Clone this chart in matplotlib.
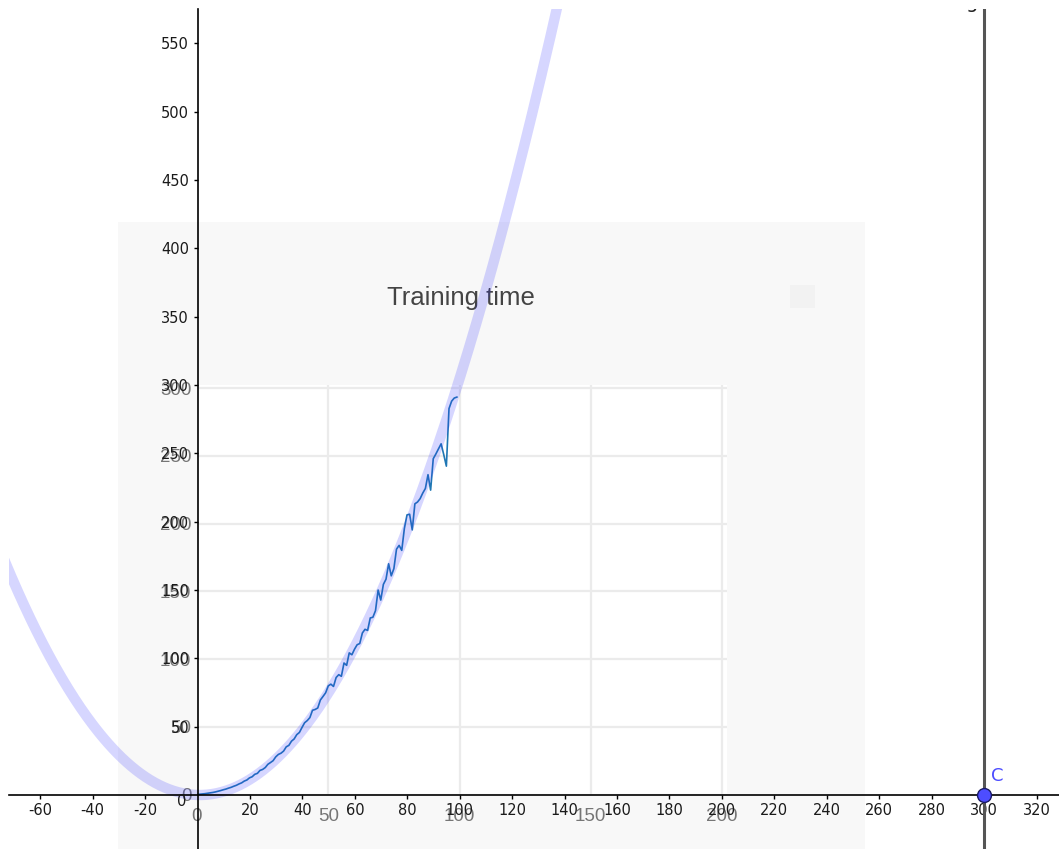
import matplotlib.pyplot as plt
import numpy as np
from matplotlib.patches import Rectangle

plt.rcParams['axes.unicode_minus'] = False

# training-time curve (x = run index)
run_x = list(range(0, 100))
run_time = [
    0, 0.2, 0.4, 0.6, 0.9, 1.2, 1.5, 1.9, 2.4, 2.9,
    3.5, 4.0, 4.7, 5.3, 6.1, 6.8, 7.8, 8.6, 9.9, 10.7,
    12.3, 13.1, 14.9, 15.6, 17.8, 18.5, 19.9, 22.3, 23.6, 25.0,
    27.8, 29.6, 30.5, 32.1, 35.2, 36.3, 39.4, 41.0, 44.2, 45.8,
    49.5, 53.0, 54.6, 56.8, 62.2, 62.8, 63.9, 69.8, 72.4, 75.1,
    80.2, 81.5, 79.8, 86.4, 88.5, 87.3, 97.1, 95.4, 104.6, 103.2,
    107.3, 110.6, 111.5, 119.3, 122.0, 121.2, 130.4, 130.9, 135.8, 151.0,
    143.6, 155.2, 159.0, 170.4, 161.5, 166.8, 181.2, 184.0, 180.3, 196.5,
    206.5, 207.0, 195.4, 214.7, 216.0, 218.5, 222.6, 226.0, 236.2, 224.8,
    248.0, 251.5, 255.3, 259.0, 251.0, 242.5, 285.0, 290.5, 292.8, 293.5,
]

# geogebra objects: fitted parabola f(x) = a x^2 + b x + c, point C, line g
fit_coeffs = [0.031, -0.05, 0.0]
point_c = (300, 0)
line_g_x = 300

geo_xticks = [t for t in range(-60, 321, 20) if t != 0]
geo_yticks = list(range(50, 551, 50))
inner_xticks = [0, 50, 100, 150, 200]
inner_yticks = [0, 50, 100, 150, 200, 250, 300]

W, H = 1059, 849
X0, XS = 197.5, 2.622   # geogebra origin pixel and pixels per unit
Y0, YS = 795, 1.3667

fig = plt.figure(figsize=(W / 100, H / 100), dpi=100)
fig.patch.set_facecolor('white')

# grey background of the pasted plotly screenshot
bg = Rectangle((118 / W, 0), (865 - 118) / W, (849 - 222) / H,
               transform=fig.transFigure, facecolor='#f8f8f8',
               edgecolor='none', zorder=0.2)
fig.patches.append(bg)
icon = Rectangle((790 / W, 1 - 308 / H), 25 / W, 23 / H,
                 transform=fig.transFigure, facecolor='#f2f2f2',
                 edgecolor='none', zorder=0.3)
fig.patches.append(icon)

# inner plotly axes
ax_in = fig.add_axes([197 / W, (849 - 794.5) / H, 530 / W, 409.5 / H])
ax_in.set_zorder(1)
ax_in.set_facecolor('white')
ax_in.set_xlim(0, 530 / 2.625)
ax_in.set_ylim(0, 409.5 / 1.354)
ax_in.plot(run_x, run_time, color='#1f77b4', lw=1.2)
ax_in.set_xticks(inner_xticks)
ax_in.set_yticks(inner_yticks)
ax_in.grid(True, color='#ebebeb', lw=1.6)
ax_in.set_axisbelow(True)
for s in ax_in.spines.values():
    s.set_visible(False)
ax_in.tick_params(length=0, labelsize=13.5, labelcolor='#555555')
for lab in ax_in.get_xticklabels() + ax_in.get_yticklabels():
    lab.set_fontfamily('Liberation Sans')
    lab.set_alpha(0.8)
ax_in.tick_params(axis='y', pad=4)
ax_in.tick_params(axis='x', pad=10)

fig.text(387 / W, 1 - 298 / H, 'Training time', ha='left', va='center',
         fontsize=18.5, color='#444444', family='Liberation Sans', zorder=1.5)

# geogebra graphics view
ax = fig.add_axes([9 / W, 0, 1050 / W, 840 / H])
ax.set_zorder(2)
ax.patch.set_alpha(0)
ax.set_xlim((9 - X0) / XS, (W - X0) / XS)
ax.set_ylim((Y0 - H) / YS, (Y0 - 9) / YS)

xs = np.linspace(-80, 160, 400)
ax.plot(xs, np.polyval(fit_coeffs, xs), color='#3333ff', alpha=0.2, lw=7.5,
        solid_capstyle='butt')
ax.axvline(line_g_x, color='#555555', lw=2.2)
ax.plot(*point_c, 'o', ms=10, mfc='#4d4dff', mec='#1a1a66', mew=1, clip_on=False,
        zorder=5)
ax.text(point_c[0] + 2.5, point_c[1] + 7, 'C', color='#4d4dff', fontsize=13,
        ha='left', va='bottom')
ax.text((966 - X0) / XS, (Y0 - 8) / YS, 'g', color='#222222', fontsize=14,
        ha='left', va='baseline', clip_on=True)

ax.spines['left'].set_position(('data', 0))
ax.spines['bottom'].set_position(('data', 0))
ax.spines['top'].set_visible(False)
ax.spines['right'].set_visible(False)
ax.spines['left'].set_linewidth(1.2)
ax.spines['bottom'].set_linewidth(1.2)
ax.set_xticks(geo_xticks)
ax.set_yticks(geo_yticks)
ax.tick_params(direction='out', length=3, width=1, labelsize=10.5,
               labelcolor='#1a1a1a')
ax.tick_params(axis='x', pad=3)
ax.tick_params(axis='y', pad=3)
ax.text((182 - X0) / XS, (Y0 - 802) / YS, '0', fontsize=10.5, color='#1a1a1a',
        ha='center', va='center')

fig.savefig('out.png', dpi=100)
